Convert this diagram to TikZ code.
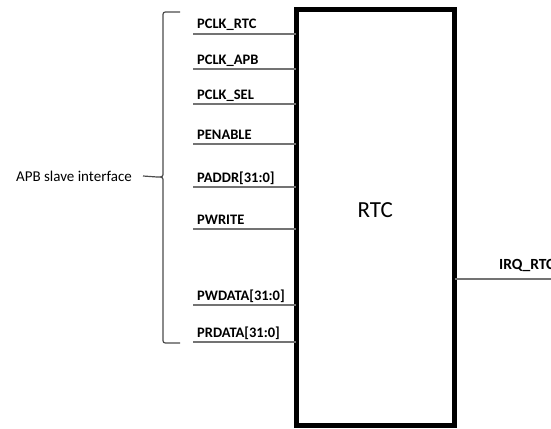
\documentclass[tikz,border=0pt]{standalone}
\usepackage{fontspec}
\setmainfont{Carlito}
\usetikzlibrary{positioning}

\begin{document}
\begin{tikzpicture}[
    x=1pt, y=-1pt,
    chip/.style={rectangle, draw=black, line width=5pt, minimum width=158.5pt, minimum height=415pt, inner sep=0pt, outer sep=0pt},
    sig/.style={draw=black!55, line width=1.3pt},
    pin/.style={anchor=base west, inner sep=0pt, font=\bfseries\fontsize{14.5}{16}\selectfont},
    brace/.style={draw=black!70, line width=1.2pt}
]
\useasboundingbox (0,0) rectangle (551,428);
\node[chip, label={[font=\fontsize{23}{26}\selectfont, yshift=7pt]center:RTC}] (rtc) at (375.25,217.5) {};
% APB side
\coordinate (clkrtc) at (193,34);
\coordinate (clkapb) at (193,69);
\coordinate (clksel) at (193,104);
\coordinate (penable) at (193,144);
\coordinate (paddr) at (193,187);
\coordinate (pwrite) at (193,229);
\coordinate (pwdata) at (193,305);
\coordinate (prdata) at (193,342);
\node[pin] (clkrtclbl) at (197,29) {PCLK\_RTC};
\node[pin] (clkapblbl) at (197,64) {PCLK\_APB};
\node[pin] (clksellbl) at (197,99) {PCLK\_SEL};
\node[pin] (penablelbl) at (197,139) {PENABLE};
\node[pin] (paddrlbl) at (197,182) {PADDR[31:0]};
\node[pin] (pwritelbl) at (197,224) {PWRITE};
\node[pin] (pwdatalbl) at (197,300) {PWDATA[31:0]};
\node[pin] (prdatalbl) at (197,337) {PRDATA[31:0]};
\draw[sig] (clkrtc) -- (clkrtc -| rtc.west);
\draw[sig] (clkapb) -- (clkapb -| rtc.west);
\draw[sig] (clksel) -- (clksel -| rtc.west);
\draw[sig] (penable) -- (penable -| rtc.west);
\draw[sig] (paddr) -- (paddr -| rtc.west);
\draw[sig] (pwrite) -- (pwrite -| rtc.west);
\draw[sig] (pwdata) -- (pwdata -| rtc.west);
\draw[sig] (prdata) -- (prdata -| rtc.west);
% brace
\coordinate (bracetip) at (157,177);
\draw[brace] (180,12) -- (168,12) .. controls (163,12) .. (163,17) -- (163,172)
    .. controls (163,177) .. (bracetip) .. controls (163,177) .. (163,182)
    -- (163,338) .. controls (163,343) .. (168,343) -- (180,343);
\node[anchor=east, inner sep=0pt, font=\fontsize{15}{18}\selectfont] (apb) at (132,176) {APB slave interface};
\draw[brace] ([xshift=11pt]apb.east) -- (bracetip);
% interrupt
\coordinate (irq) at (551,279);
\node[pin, font=\bfseries\fontsize{15.5}{17}\selectfont] (irqlbl) at (499,269) {IRQ\_RTC};
\draw[sig] (rtc.east |- irq) -- (irq);
\end{tikzpicture}
\end{document}
